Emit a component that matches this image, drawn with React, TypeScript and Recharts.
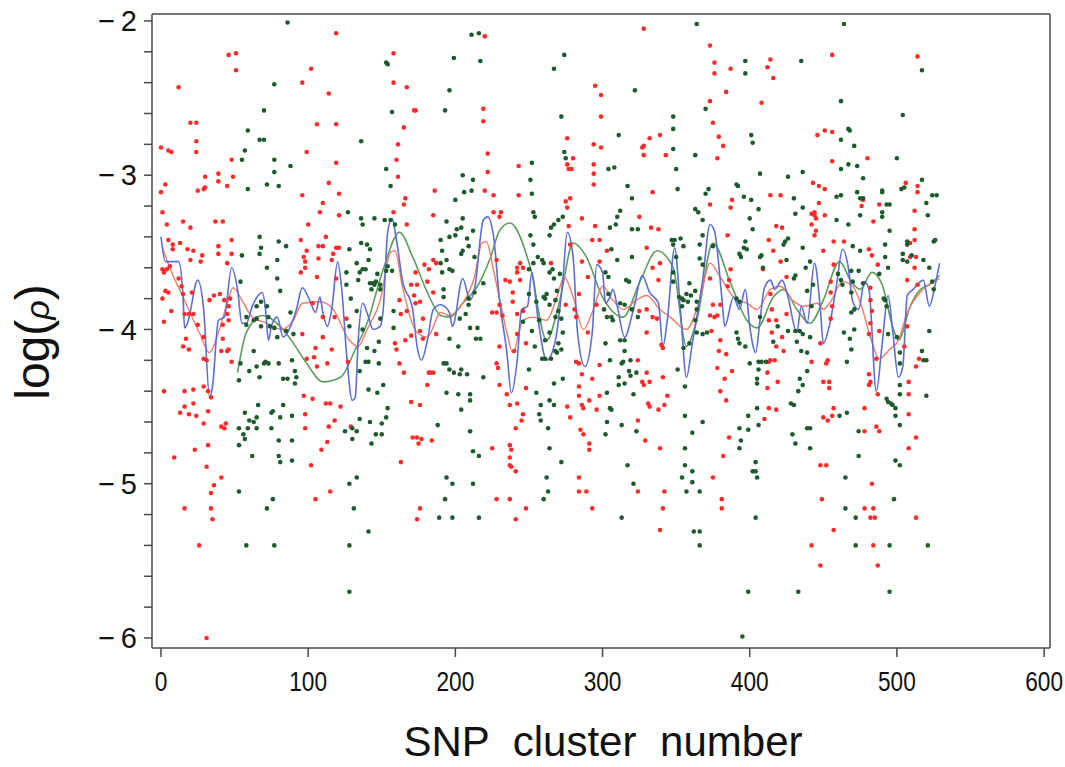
import { ComposedChart, Scatter, Line, XAxis, YAxis, ReferenceLine } from "recharts"

// axis setup
const X_MIN = -6.1
const X_MAX = 604
const Y_MIN = -6.065
const Y_MAX = -1.955
const X_TICKS = [0, 100, 200, 300, 400, 500, 600]
const Y_TICKS = [-6, -5.8, -5.6, -5.4, -5.2, -5, -4.8, -4.6, -4.4, -4.2, -4, -3.8, -3.6, -3.4, -3.2, -3, -2.8, -2.6, -2.4, -2.2, -2]

// [SNP cluster, log(rho)]
const RED_POINTS: [number, number][] = [
  [46,-2.22],[51,-2.21],[51,-2.32],[12,-2.43],[20,-2.66],[24,-2.66],[24,-2.78],[0,-2.82],[5,-2.84],[7,-2.85],[24,-2.85],[48,-2.90],[39,-2.99],[49,-3.01],[30,-3.01],[39,-3.04],[25,-3.10],[29,-3.09],[30,-3.08],[45,-3.07],[3,-3.06],[0,-3.11],[1,-3.24],[4,-3.32],[15,-3.30],[20,-3.34],[37,-3.30],[42,-3.30],[48,-3.42],[5,-3.42],[8,-3.45],[8,-3.48],[13,-3.44],[18,-3.48],[22,-3.49],[20,-3.55],[28,-3.52],[27,-3.56],[39,-3.46],[39,-3.51],[45,-3.57],[48,-3.51],[1,-3.61],[2,-3.63],[4,-3.61],[6,-3.59],[12,-3.67],[14,-3.72],[15,-3.77],[21,-3.76],[1,-3.80],[3,-3.75],[5,-3.76],[7,-3.88],[2,-3.95],[16,-3.90],[19,-3.90],[22,-3.90],[25,-3.97],[17,-4.06],[15,-4.11],[19,-4.13],[33,-3.81],[36,-3.78],[40,-3.77],[43,-3.81],[47,-3.80],[46,-3.85],[45,-3.90],[46,-3.94],[42,-3.97],[42,-4.06],[46,-4.13],[29,-4.05],[29,-4.19],[31,-4.20],[41,-4.14],[45,-4.14],[48,-4.21],[2,-4.40],[16,-4.40],[22,-4.39],[29,-4.37],[32,-4.40],[34,-4.44],[16,-4.50],[22,-4.48],[13,-4.54],[19,-4.55],[24,-4.56],[32,-4.53],[29,-4.61],[41,-4.63],[43,-4.64],[44,-4.61],[23,-4.78],[32,-4.75],[9,-4.83],[31,-4.89],[41,-4.96],[36,-5.01],[34,-5.06],[16,-5.16],[34,-5.16],[35,-5.23],[26,-5.40],[31,-6.00],
  [119,-2.08],[158,-2.21],[102,-2.31],[96,-2.40],[114,-2.47],[158,-2.40],[167,-2.43],[106,-2.67],[119,-2.67],[172,-2.58],[165,-2.69],[161,-2.80],[99,-2.85],[160,-2.90],[119,-2.92],[161,-3.01],[114,-3.05],[96,-3.13],[121,-3.12],[110,-3.18],[166,-3.15],[165,-3.19],[108,-3.24],[121,-3.26],[158,-3.24],[100,-3.32],[167,-3.32],[95,-3.42],[112,-3.40],[97,-3.53],[99,-3.49],[107,-3.46],[110,-3.46],[117,-3.51],[119,-3.47],[121,-3.47],[98,-3.56],[107,-3.54],[116,-3.55],[95,-3.63],[98,-3.60],[106,-3.66],[119,-3.67],[170,-3.71],[172,-3.78],[162,-3.81],[163,-3.90],[167,-3.88],[103,-3.83],[110,-3.92],[118,-3.92],[126,-3.93],[96,-4.03],[110,-4.05],[116,-4.13],[159,-4.09],[160,-4.13],[166,-4.07],[170,-4.04],[105,-4.12],[104,-4.18],[99,-4.19],[162,-4.22],[106,-4.24],[113,-4.22],[127,-4.21],[165,-4.28],[97,-4.43],[103,-4.45],[112,-4.48],[115,-4.48],[122,-4.50],[118,-4.59],[98,-4.55],[170,-4.47],[98,-4.64],[114,-4.63],[129,-4.63],[171,-4.70],[113,-4.73],[109,-4.78],[163,-4.86],[102,-4.88],[115,-5.05],[105,-5.10],
  [220,-2.10],[173,-2.58],[219,-2.57],[219,-2.65],[222,-2.86],[222,-2.98],[243,-2.94],[186,-3.10],[220,-3.10],[226,-3.13],[243,-3.13],[185,-3.26],[226,-3.24],[231,-3.24],[230,-3.27],[179,-3.58],[185,-3.55],[187,-3.57],[228,-3.55],[173,-3.63],[182,-3.61],[181,-3.69],[185,-3.76],[174,-3.71],[173,-3.83],[176,-3.82],[178,-3.93],[187,-4.03],[178,-4.06],[176,-4.01],[230,-3.84],[225,-3.89],[228,-3.89],[232,-3.91],[234,-3.68],[237,-3.69],[244,-3.57],[242,-3.60],[246,-3.60],[242,-3.63],[244,-3.68],[239,-3.76],[239,-3.82],[242,-3.90],[246,-3.88],[242,-4.03],[248,-4.09],[240,-4.14],[230,-4.11],[228,-4.22],[229,-4.25],[248,-4.38],[235,-4.42],[237,-4.49],[242,-4.48],[246,-4.55],[245,-4.59],[241,-4.64],[182,-4.28],[183,-4.28],[185,-4.28],[181,-4.36],[176,-4.49],[230,-4.36],[225,-4.77],[237,-4.75],[238,-4.78],[237,-4.83],[237,-4.88],[238,-4.89],[241,-4.92],[174,-4.70],[177,-4.71],[184,-4.72],[175,-4.74],[228,-5.10],[237,-5.10],[176,-5.16],[174,-5.23],[241,-5.23],[248,-5.16],
  [328,-2.05],[295,-2.42],[299,-2.48],[299,-2.62],[276,-2.76],[280,-2.89],[294,-2.80],[299,-2.82],[327,-2.82],[328,-2.81],[332,-2.76],[339,-2.74],[343,-2.87],[328,-2.87],[276,-2.93],[277,-2.96],[279,-2.96],[294,-2.93],[294,-2.99],[294,-3.06],[275,-3.17],[276,-3.21],[278,-3.15],[334,-3.11],[286,-3.28],[325,-3.27],[277,-3.33],[295,-3.33],[333,-3.34],[338,-3.35],[278,-3.45],[293,-3.42],[298,-3.42],[330,-3.47],[286,-3.56],[298,-3.56],[303,-3.49],[265,-3.57],[290,-3.66],[339,-3.57],[334,-3.60],[338,-3.68],[284,-3.77],[275,-3.84],[281,-3.87],[282,-3.92],[296,-3.84],[290,-4.02],[325,-3.88],[330,-3.87],[334,-3.92],[337,-3.93],[330,-4.02],[340,-4.10],[341,-4.12],[282,-4.21],[284,-4.22],[298,-4.23],[286,-4.29],[284,-4.37],[293,-4.32],[284,-4.43],[286,-4.49],[287,-4.51],[291,-4.46],[298,-4.43],[276,-4.50],[278,-4.57],[296,-4.52],[324,-4.20],[330,-4.28],[327,-4.34],[328,-4.36],[332,-4.34],[341,-4.31],[344,-4.43],[331,-4.48],[332,-4.50],[342,-4.49],[338,-4.52],[324,-4.59],[285,-4.65],[287,-4.68],[291,-4.74],[291,-4.78],[329,-4.72],[339,-4.77],[284,-4.96],[284,-5.05],[289,-5.05],[324,-5.05],[342,-5.05],[293,-5.16],[341,-5.16],[339,-5.30],
  [373,-2.16],[376,-2.27],[376,-2.34],[387,-2.31],[384,-2.46],[373,-2.52],[375,-2.66],[379,-2.75],[382,-2.81],[378,-2.89],[408,-2.53],[414,-2.25],[412,-2.30],[416,-2.37],[414,-3.13],[421,-3.13],[388,-3.16],[387,-3.21],[373,-3.19],[385,-3.39],[418,-3.33],[422,-3.34],[413,-3.42],[416,-3.49],[421,-3.56],[409,-3.61],[425,-3.66],[387,-3.61],[386,-3.68],[373,-3.67],[385,-3.72],[375,-3.84],[373,-3.91],[380,-3.84],[378,-3.91],[376,-3.92],[414,-3.77],[415,-3.87],[413,-3.94],[418,-3.94],[425,-3.90],[415,-4.02],[422,-4.05],[374,-4.01],[380,-4.07],[418,-4.11],[423,-4.14],[379,-4.14],[384,-4.16],[414,-4.20],[417,-4.20],[413,-4.21],[378,-4.25],[388,-4.27],[412,-4.28],[419,-4.34],[383,-4.32],[412,-4.38],[380,-4.40],[384,-4.46],[413,-4.51],[418,-4.52],[410,-4.58],[386,-4.70],[382,-4.82],[375,-4.96],[381,-5.10],[381,-5.16],
  [456,-2.22],[514,-2.23],[446,-2.74],[451,-2.71],[456,-2.72],[480,-2.89],[456,-2.91],[443,-3.05],[447,-3.07],[451,-3.09],[514,-3.07],[514,-3.11],[506,-3.05],[477,-3.16],[476,-3.20],[488,-3.19],[447,-3.18],[444,-3.24],[444,-3.26],[442,-3.25],[445,-3.28],[442,-3.32],[445,-3.36],[444,-3.39],[451,-3.26],[484,-3.30],[512,-3.23],[512,-3.35],[457,-3.43],[464,-3.43],[481,-3.48],[483,-3.52],[487,-3.58],[450,-3.49],[512,-3.42],[509,-3.44],[513,-3.53],[509,-3.53],[512,-3.60],[457,-3.58],[507,-3.68],[514,-3.71],[455,-3.69],[455,-3.76],[456,-3.85],[455,-3.93],[482,-3.73],[482,-3.81],[483,-3.88],[482,-3.96],[481,-4.03],[488,-4.01],[448,-4.09],[507,-3.98],[505,-4.11],[453,-4.20],[452,-4.22],[442,-4.21],[486,-4.19],[515,-4.19],[513,-4.24],[481,-4.29],[482,-4.34],[481,-4.36],[450,-4.34],[454,-4.34],[454,-4.38],[487,-4.42],[508,-4.34],[508,-4.42],[457,-4.51],[456,-4.56],[453,-4.59],[450,-4.57],[478,-4.51],[508,-4.55],[478,-4.66],[486,-4.63],[488,-4.66],[513,-4.70],[508,-4.77],[448,-4.88],[452,-4.88],[449,-5.10],[483,-5.00],[478,-5.16],[484,-5.16],[482,-5.22],[485,-5.22],[513,-5.22],[457,-5.30],[442,-5.40],[484,-5.40],[448,-5.53],[487,-5.53],
]

const GREEN_POINTS: [number, number][] = [
  [77,-2.41],[70,-2.58],[59,-2.71],[67,-2.77],[70,-2.77],[57,-2.84],[55,-2.90],[77,-2.90],[77,-2.98],[59,-3.09],[72,-3.06],[80,-3.07],[67,-3.40],[80,-3.43],[68,-3.47],[67,-3.51],[55,-3.52],[79,-3.55],[72,-3.60],[79,-3.67],[54,-3.69],[81,-3.75],[68,-3.82],[72,-3.85],[65,-3.85],[73,-3.92],[58,-3.92],[63,-3.94],[65,-3.93],[58,-3.97],[68,-3.98],[74,-3.98],[77,-3.99],[63,-4.14],[79,-4.05],[54,-4.22],[60,-4.27],[65,-4.24],[67,-4.31],[70,-4.22],[71,-4.21],[73,-4.22],[80,-4.22],[53,-4.33],[83,-4.32],[66,-4.49],[57,-4.54],[60,-4.59],[63,-4.60],[65,-4.57],[76,-4.53],[83,-4.49],[81,-4.57],[75,-4.54],[53,-4.64],[59,-4.64],[65,-4.64],[75,-4.64],[80,-4.72],[56,-4.68],[57,-4.71],[53,-4.75],[62,-4.82],[80,-4.82],[81,-4.86],[53,-5.05],[76,-5.10],[72,-5.16],[58,-5.40],[77,-5.40],
  [86,-2.01],[153,-2.27],[154,-2.28],[157,-2.59],[136,-2.78],[88,-2.94],[153,-2.96],[156,-3.07],[127,-3.24],[136,-3.28],[137,-3.32],[145,-3.28],[152,-3.29],[156,-3.29],[159,-3.32],[85,-3.46],[136,-3.44],[140,-3.45],[142,-3.48],[128,-3.48],[133,-3.57],[137,-3.61],[139,-3.61],[135,-3.63],[141,-3.55],[126,-3.63],[147,-3.64],[153,-3.62],[154,-3.59],[157,-3.62],[134,-3.68],[126,-3.71],[142,-3.70],[144,-3.70],[145,-3.71],[146,-3.69],[149,-3.71],[143,-3.74],[149,-3.74],[129,-3.80],[133,-3.88],[88,-3.89],[158,-3.88],[128,-3.98],[137,-4.00],[149,-3.93],[158,-3.99],[85,-4.01],[90,-4.03],[89,-4.20],[91,-4.27],[92,-4.31],[86,-4.32],[91,-4.35],[140,-4.12],[148,-4.08],[145,-4.14],[139,-4.21],[141,-4.21],[148,-4.22],[135,-4.27],[151,-4.36],[141,-4.39],[147,-4.41],[89,-4.56],[135,-4.58],[142,-4.60],[150,-4.61],[153,-4.57],[154,-4.51],[125,-4.66],[130,-4.64],[133,-4.66],[130,-4.71],[146,-4.68],[150,-4.68],[89,-4.72],[143,-4.74],[89,-4.85],[133,-4.96],[128,-5.00],[131,-5.16],[141,-5.31],[128,-5.40],[128,-5.70],
  [211,-2.09],[216,-2.08],[199,-2.24],[217,-2.26],[196,-2.45],[193,-2.58],[252,-2.92],[205,-3.00],[212,-3.03],[251,-3.03],[206,-3.11],[211,-3.10],[252,-3.12],[200,-3.16],[253,-3.24],[254,-3.27],[194,-3.30],[205,-3.28],[201,-3.35],[200,-3.39],[204,-3.34],[212,-3.36],[208,-3.41],[196,-3.40],[190,-3.42],[251,-3.39],[253,-3.45],[205,-3.49],[204,-3.51],[209,-3.46],[213,-3.53],[191,-3.49],[194,-3.55],[196,-3.61],[190,-3.57],[191,-3.63],[198,-3.62],[256,-3.53],[253,-3.57],[259,-3.55],[260,-3.57],[250,-3.61],[192,-3.74],[219,-3.70],[192,-3.79],[209,-3.80],[213,-3.76],[209,-3.84],[207,-3.90],[203,-3.93],[250,-3.77],[255,-3.82],[260,-3.79],[257,-3.94],[246,-3.95],[252,-4.01],[215,-3.99],[210,-3.99],[214,-4.06],[196,-4.06],[217,-4.06],[202,-4.11],[259,-4.19],[254,-4.11],[250,-4.26],[192,-4.22],[194,-4.22],[196,-4.26],[199,-4.28],[203,-4.29],[208,-4.29],[204,-4.26],[219,-4.31],[194,-4.41],[202,-4.42],[210,-4.42],[210,-4.46],[204,-4.52],[255,-4.41],[258,-4.49],[257,-4.55],[258,-4.59],[188,-4.62],[210,-4.66],[212,-4.79],[216,-4.82],[194,-4.96],[198,-5.00],[212,-5.00],[193,-5.10],[260,-5.10],[189,-5.22],[198,-5.22],[216,-5.22],
  [274,-2.22],[267,-2.31],[322,-2.45],[272,-2.62],[348,-2.62],[348,-2.70],[311,-2.74],[274,-2.85],[275,-2.89],[348,-2.83],[304,-2.96],[308,-2.95],[317,-3.07],[320,-3.15],[273,-3.27],[270,-3.29],[267,-3.32],[265,-3.34],[264,-3.39],[312,-3.23],[310,-3.27],[305,-3.34],[309,-3.32],[320,-3.35],[324,-3.35],[347,-3.42],[348,-3.45],[320,-3.53],[310,-3.55],[306,-3.48],[264,-3.63],[266,-3.61],[271,-3.64],[267,-3.67],[262,-3.77],[261,-3.80],[269,-3.75],[268,-3.81],[264,-3.84],[270,-3.88],[272,-3.93],[268,-3.92],[264,-4.02],[261,-4.07],[273,-4.02],[270,-4.09],[272,-4.13],[268,-4.14],[265,-4.19],[261,-4.19],[269,-4.15],[302,-3.63],[304,-3.66],[304,-3.77],[307,-3.94],[306,-3.92],[301,-3.87],[303,-3.92],[312,-3.83],[315,-3.84],[316,-3.68],[318,-3.69],[320,-3.87],[348,-3.69],[348,-3.63],[324,-3.92],[312,-4.07],[315,-4.07],[302,-4.09],[315,-4.14],[319,-4.20],[314,-4.21],[313,-4.22],[305,-4.20],[318,-4.27],[323,-4.28],[319,-4.30],[311,-4.31],[311,-4.36],[315,-4.35],[321,-4.42],[303,-4.41],[267,-4.35],[273,-4.32],[305,-4.51],[306,-4.52],[264,-4.46],[267,-4.49],[303,-4.60],[302,-4.68],[313,-4.62],[323,-4.66],[263,-4.64],[264,-4.77],[272,-4.86],[317,-4.88],[262,-4.96],[263,-5.05],[321,-5.00],[313,-5.22],
  [364,-2.02],[435,-2.26],[397,-2.26],[397,-2.34],[370,-2.57],[401,-2.74],[402,-2.79],[363,-2.87],[350,-2.96],[407,-2.99],[426,-3.01],[391,-3.06],[392,-3.07],[370,-3.12],[372,-3.09],[351,-3.09],[396,-3.14],[401,-3.16],[430,-3.15],[363,-3.22],[365,-3.24],[400,-3.28],[406,-3.22],[368,-3.29],[431,-3.25],[436,-3.21],[402,-3.35],[426,-3.41],[424,-3.43],[423,-3.45],[349,-3.42],[353,-3.41],[368,-3.39],[366,-3.45],[375,-3.46],[397,-3.43],[396,-3.47],[398,-3.48],[436,-3.47],[394,-3.53],[393,-3.51],[407,-3.53],[408,-3.52],[409,-3.60],[425,-3.55],[430,-3.67],[431,-3.65],[355,-3.46],[350,-3.53],[366,-3.54],[368,-3.58],[359,-3.70],[363,-3.75],[357,-3.77],[352,-3.79],[354,-3.80],[355,-3.81],[358,-3.82],[360,-3.78],[354,-3.85],[364,-3.82],[364,-3.87],[363,-3.94],[391,-3.80],[393,-3.82],[368,-4.03],[371,-4.02],[364,-4.02],[355,-4.12],[359,-4.09],[391,-4.02],[392,-4.06],[393,-4.09],[397,-4.11],[407,-3.92],[426,-4.01],[431,-4.01],[434,-4.01],[436,-4.03],[432,-4.08],[435,-4.14],[416,-4.08],[419,-3.98],[400,-4.22],[406,-4.21],[408,-4.21],[406,-4.26],[405,-4.32],[405,-4.35],[351,-4.26],[356,-4.37],[434,-4.32],[436,-4.36],[433,-4.40],[428,-4.48],[430,-4.49],[411,-4.21],[405,-4.51],[399,-4.56],[406,-4.62],[356,-4.56],[368,-4.60],[393,-4.64],[399,-4.65],[394,-4.72],[393,-4.77],[361,-4.67],[431,-4.74],[429,-4.68],[356,-4.77],[404,-4.86],[402,-4.92],[404,-4.92],[405,-4.96],[354,-4.96],[356,-4.88],[361,-4.92],[361,-4.99],[357,-5.05],[366,-5.05],[404,-5.22],[362,-5.31],[366,-5.31],[366,-5.40],[399,-5.70],[433,-5.70],[395,-5.99],
  [464,-2.02],[517,-2.32],[462,-2.52],[504,-2.61],[467,-2.70],[468,-2.71],[462,-2.77],[471,-2.81],[500,-2.89],[436,-2.98],[462,-2.96],[467,-2.93],[473,-2.94],[477,-3.02],[517,-3.03],[503,-3.09],[505,-3.08],[459,-3.14],[462,-3.13],[473,-3.11],[475,-3.15],[477,-3.15],[490,-3.10],[490,-3.11],[493,-3.19],[495,-3.19],[520,-3.18],[524,-3.13],[527,-3.13],[475,-3.26],[490,-3.24],[490,-3.27],[521,-3.26],[459,-3.29],[467,-3.32],[495,-3.36],[507,-3.43],[507,-3.45],[525,-3.43],[526,-3.42],[441,-3.56],[438,-3.60],[470,-3.46],[475,-3.49],[469,-3.62],[492,-3.45],[492,-3.53],[494,-3.60],[504,-3.51],[504,-3.55],[510,-3.52],[507,-3.56],[518,-3.55],[522,-3.60],[524,-3.69],[525,-3.74],[462,-3.68],[463,-3.71],[474,-3.62],[460,-3.64],[470,-3.69],[469,-3.76],[477,-3.70],[488,-3.64],[491,-3.80],[492,-3.81],[493,-3.85],[469,-3.89],[471,-3.87],[442,-3.85],[443,-3.71],[439,-3.75],[441,-4.05],[439,-4.15],[464,-4.02],[468,-4.06],[471,-4.00],[469,-4.13],[494,-4.03],[500,-4.05],[502,-4.15],[502,-4.22],[517,-4.14],[518,-4.20],[520,-4.20],[522,-4.01],[466,-4.21],[439,-4.27],[502,-4.36],[502,-4.42],[520,-4.43],[493,-4.45],[494,-4.47],[496,-4.48],[497,-4.49],[499,-4.51],[499,-4.56],[502,-4.62],[461,-4.56],[466,-4.54],[439,-4.64],[441,-4.64],[474,-4.66],[441,-4.77],[474,-4.82],[499,-4.85],[502,-4.88],[465,-4.96],[498,-5.10],[465,-5.16],[472,-5.22],[472,-5.40],[495,-5.40],[521,-5.40],[495,-5.70],
]

// smoothed fits
const BLUE_FIT: [number, number][] = [
  [0,-3.40],[3,-3.56],[12,-3.56],[15,-3.79],[16,-3.99],[18,-3.96],[25,-3.68],[29,-3.87],[33,-4.44],[35,-4.37],[39,-3.94],[43,-3.92],[48,-3.60],[52,-3.74],[55,-3.96],[58,-3.96],[62,-3.85],[69,-3.76],[71,-3.87],[73,-4.07],[75,-3.98],[79,-3.92],[83,-4.05],[88,-3.98],[92,-3.87],[96,-3.73],[101,-3.81],[105,-3.89],[108,-3.79],[110,-3.89],[113,-3.98],[116,-3.87],[120,-3.56],[123,-3.76],[126,-4.15],[130,-4.46],[132,-4.44],[134,-4.07],[137,-3.83],[141,-3.92],[144,-4.00],[149,-3.98],[151,-3.87],[154,-3.37],[157,-3.28],[160,-3.42],[164,-3.68],[171,-3.87],[174,-4.11],[177,-4.20],[181,-4.07],[185,-3.87],[190,-3.84],[196,-3.89],[198,-3.98],[205,-3.67],[210,-3.81],[213,-3.74],[219,-3.29],[222,-3.27],[226,-3.40],[230,-3.81],[235,-4.15],[238,-4.41],[242,-4.20],[245,-3.87],[249,-3.85],[252,-3.63],[256,-3.92],[262,-4.20],[268,-4.07],[273,-3.68],[276,-3.37],[280,-3.53],[283,-4.02],[288,-4.24],[293,-4.02],[296,-3.58],[300,-3.63],[302,-3.83],[305,-3.79],[307,-3.74],[310,-3.85],[315,-4.05],[321,-3.87],[327,-3.65],[332,-3.76],[338,-3.83],[341,-4.11],[344,-3.94],[349,-3.47],[353,-3.89],[357,-4.31],[361,-4.09],[368,-3.68],[373,-3.32],[376,-3.36],[381,-3.79],[383,-3.98],[389,-3.79],[393,-3.87],[397,-3.74],[400,-3.98],[404,-4.15],[407,-3.94],[410,-3.73],[414,-3.68],[417,-3.74],[422,-3.68],[426,-3.79],[432,-4.02],[435,-3.85],[439,-3.96],[444,-3.57],[448,-3.87],[450,-4.09],[454,-3.98],[459,-3.71],[463,-3.48],[467,-3.60],[470,-3.82],[474,-3.87],[478,-3.69],[481,-3.74],[486,-4.40],[490,-4.09],[494,-3.78],[497,-4.00],[501,-4.31],[504,-4.24],[507,-3.78],[511,-3.74],[518,-3.68],[522,-3.85],[526,-3.71],[529,-3.57],
]

const RED_FIT: [number, number][] = [
  [1,-3.47],[6,-3.60],[15,-3.79],[26,-4.02],[33,-4.15],[39,-4.02],[45,-3.83],[49,-3.73],[55,-3.81],[62,-3.92],[72,-3.96],[82,-4.00],[90,-3.94],[96,-3.83],[108,-3.82],[117,-3.87],[128,-4.07],[134,-4.11],[140,-4.00],[149,-3.81],[156,-3.50],[159,-3.49],[164,-3.72],[174,-4.02],[181,-4.05],[190,-3.89],[196,-3.91],[205,-3.83],[213,-3.66],[218,-3.44],[221,-3.43],[226,-3.62],[230,-3.80],[235,-4.02],[239,-4.15],[246,-3.94],[253,-3.92],[262,-3.94],[269,-3.79],[274,-3.66],[280,-3.79],[287,-4.00],[293,-3.89],[300,-3.72],[307,-3.81],[314,-3.87],[323,-3.81],[330,-3.78],[339,-3.87],[346,-3.92],[357,-4.00],[366,-3.81],[373,-3.57],[380,-3.66],[389,-3.79],[398,-3.83],[405,-3.87],[414,-3.74],[421,-3.72],[429,-3.81],[437,-3.85],[446,-3.83],[450,-3.87],[455,-3.82],[463,-3.69],[469,-3.71],[476,-3.85],[482,-4.05],[488,-4.19],[495,-4.13],[501,-4.07],[507,-3.89],[514,-3.78],[520,-3.72],[529,-3.67],
]

const GREEN_FIT: [number, number][] = [
  [52,-4.28],[58,-4.02],[69,-3.91],[81,-3.98],[90,-4.09],[99,-4.22],[110,-4.34],[122,-4.31],[132,-4.13],[140,-3.96],[151,-3.61],[162,-3.37],[171,-3.53],[181,-3.76],[190,-3.91],[196,-3.92],[205,-3.83],[215,-3.72],[224,-3.53],[230,-3.36],[237,-3.31],[251,-3.60],[262,-4.07],[271,-3.81],[280,-3.44],[289,-3.53],[300,-3.79],[314,-3.92],[325,-3.70],[337,-3.49],[348,-3.60],[357,-4.11],[364,-3.94],[375,-3.44],[387,-3.70],[398,-3.94],[405,-3.99],[416,-3.79],[423,-3.74],[432,-3.87],[441,-3.96],[450,-3.81],[461,-3.56],[469,-3.69],[475,-3.74],[483,-3.63],[490,-3.71],[497,-3.98],[501,-4.07],[509,-3.85],[516,-3.74],[522,-3.71],[529,-3.65],
]

const toXY = (pts: [number, number][]) => pts.map(([x, y]) => ({ x, y }))

const FRAME = "#4a4a4a"

const dot = (color: string) => (props: any) => {
  if (props.cx == null || props.cy == null) return <g />
  return <circle cx={props.cx} cy={props.cy} r={2.3} fill={color} />
}

const formatY = (v: number) => (Number.isInteger(v) ? `\u2212\u2009${Math.abs(v)}` : "")

// condensed x tick labels, like the narrow face of the original
const XTick = (props: any) => {
  const { x, y, payload } = props
  return (
    <text
      transform={`translate(${x},${y}) scale(0.84,1)`}
      x={0}
      y={0}
      dy="0.71em"
      textAnchor="middle"
      fill="#111"
      fontSize={27}
      fontFamily="'Liberation Sans', Arial, sans-serif"
    >
      {payload.value}
    </text>
  )
}

export default function App() {
  return (
    <div style={{ position: "absolute", left: 0, top: 0, width: 1065, height: 767, background: "#fff" }}>
      <ComposedChart width={1065} height={767} margin={{ top: 14, right: 15, bottom: 59, left: 0 }}>
        <XAxis
          type="number"
          dataKey="x"
          domain={[X_MIN, X_MAX]}
          ticks={X_TICKS}
          allowDataOverflow
          height={60}
          tickSize={9}
          tickMargin={15}
          stroke={FRAME}
          strokeWidth={1.5}
          tick={<XTick />}
        />
        <YAxis
          type="number"
          dataKey="y"
          domain={[Y_MIN, Y_MAX]}
          ticks={Y_TICKS}
          allowDataOverflow
          width={152}
          tickSize={8}
          tickMargin={7}
          interval={0}
          stroke={FRAME}
          strokeWidth={1.5}
          tickFormatter={formatY}
          tick={{ fill: "#111", fontSize: 29, fontFamily: "'Liberation Sans', Arial, sans-serif" }}
        />
        <ReferenceLine y={Y_MAX} stroke={FRAME} strokeWidth={1.5} />
        <ReferenceLine x={X_MAX} stroke={FRAME} strokeWidth={1.5} />
        <Scatter data={toXY(RED_POINTS)} fill="#ff2b2b" shape={dot("#ff2b2b")} isAnimationActive={false} />
        <Scatter data={toXY(GREEN_POINTS)} fill="#1d5a2c" shape={dot("#1d5a2c")} isAnimationActive={false} />
        <Line data={toXY(GREEN_FIT)} dataKey="y" type="monotone" stroke="#5f9c5e" strokeWidth={1.6} dot={false} isAnimationActive={false} />
        <Line data={toXY(RED_FIT)} dataKey="y" type="monotone" stroke="#f27a6a" strokeWidth={1.4} dot={false} isAnimationActive={false} />
        <Line data={toXY(BLUE_FIT)} dataKey="y" type="monotone" stroke="#5b6fd4" strokeWidth={1.6} dot={false} isAnimationActive={false} />
      </ComposedChart>
      <div
        style={{
          position: "absolute",
          left: 35,
          top: 342,
          transform: "translate(-50%, -50%) rotate(-90deg)",
          fontFamily: "'Liberation Sans', Arial, sans-serif",
          fontSize: 48,
          lineHeight: "48px",
          whiteSpace: "nowrap",
          color: "#111",
        }}
      >
        log(<span style={{ fontSize: 34, fontStyle: "italic" }}>ρ</span>)
      </div>
      <div
        style={{
          position: "absolute",
          left: 603,
          top: 721,
          transform: "translateX(-50%)",
          fontFamily: "'Liberation Sans', Arial, sans-serif",
          fontSize: 42,
          lineHeight: "42px",
          wordSpacing: 12,
          whiteSpace: "nowrap",
          color: "#111",
        }}
      >
        SNP cluster number
      </div>
    </div>
  )
}
